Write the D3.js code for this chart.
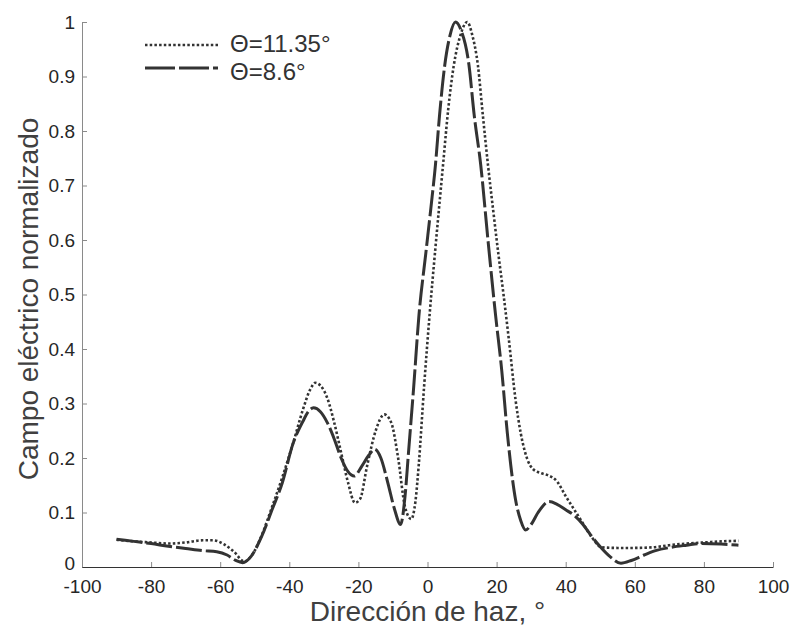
<!DOCTYPE html>
<html>
<head>
<meta charset="utf-8">
<script src="https://cdn.jsdelivr.net/npm/d3@7"></script>
<style>
  body { margin: 0; background: #fff; }
  svg { font-family: "Liberation Sans", Arial, sans-serif; }
</style>
</head>
<body>
<div id="chart"></div>
<script>
// Legend labels
const seriesNames = ["\u0398=11.35\u00b0", "\u0398=8.6\u00b0"];

// Θ=11.35° (dotted) — direction vs. normalised field
const dirA = [-90, -85, -80, -75, -70, -65, -62, -59, -56, -53, -51, -48, -45, -42, -39, -36, -34, -32.5, -31, -29, -27, -25, -23, -21, -19.5, -17.5, -15, -12.5, -10.5, -8.5, -6.5, -4.7, -3.5, -2.5, -1, 0.7, 2.5, 4.5, 6, 7.6, 9.5, 11.5, 13, 14.6, 16, 17.5, 19, 20.5, 22, 23.5, 25.5, 27, 29, 30.5, 33, 35, 37.5, 40, 42.5, 45, 47.5, 50.5, 55, 60, 65, 70, 75, 80, 85, 90];
const fieldA = [0.05, 0.047, 0.045, 0.043, 0.045, 0.049, 0.049, 0.042, 0.028, 0.01, 0.02, 0.058, 0.11, 0.165, 0.225, 0.29, 0.325, 0.338, 0.333, 0.31, 0.265, 0.21, 0.155, 0.118, 0.125, 0.185, 0.25, 0.28, 0.265, 0.2, 0.11, 0.088, 0.12, 0.19, 0.33, 0.47, 0.6, 0.738, 0.84, 0.92, 0.975, 1.0, 0.975, 0.92, 0.83, 0.738, 0.655, 0.575, 0.5, 0.42, 0.306, 0.245, 0.196, 0.18, 0.172, 0.168, 0.157, 0.13, 0.105, 0.08, 0.055, 0.036, 0.035, 0.035, 0.036, 0.04, 0.043, 0.045, 0.047, 0.048];

// Θ=8.6° (dashed)
const dirB = [-90, -85, -80, -75, -70, -65, -61, -58, -55.5, -53.5, -51, -48, -45, -42, -39, -36, -34.5, -33, -31, -29, -27, -25, -23, -21.2, -19, -17, -15.3, -13.5, -11.5, -9.5, -7.8, -6.5, -5.5, -4, -2.5, -0.5, 1, 2.3, 3.5, 5, 6.5, 8.1, 9.7, 12, 13.5, 15.4, 17.5, 19.7, 21.5, 23.1, 25.5, 27, 28.4, 30, 32, 35.2, 37.5, 40, 42.4, 45, 47.2, 50, 53, 56, 59, 62.7, 66, 70.4, 75, 79, 85, 90];
const fieldB = [0.051, 0.047, 0.043, 0.038, 0.034, 0.03, 0.028, 0.022, 0.012, 0.008, 0.02, 0.056, 0.105, 0.155, 0.225, 0.268, 0.285, 0.292, 0.285, 0.265, 0.235, 0.2, 0.175, 0.167, 0.185, 0.205, 0.216, 0.2, 0.155, 0.105, 0.078, 0.13, 0.21, 0.33, 0.46, 0.575, 0.66, 0.738, 0.83, 0.921, 0.975, 1.0, 0.985, 0.921, 0.83, 0.738, 0.6, 0.462, 0.36, 0.246, 0.123, 0.085, 0.068, 0.078, 0.1, 0.12, 0.115, 0.105, 0.095, 0.078, 0.059, 0.037, 0.018, 0.007, 0.012, 0.022, 0.03, 0.036, 0.04, 0.043, 0.042, 0.04];

// Axis ticks
const xTicks = [-100, -80, -60, -40, -20, 0, 20, 40, 60, 80, 100];
const yTicks = [0, 0.1, 0.2, 0.3, 0.4, 0.5, 0.6, 0.7, 0.8, 0.9, 1];

const width = 794, height = 629;
const margin = {top: 22, right: 21, bottom: 62, left: 82};
const w = width - margin.left - margin.right;
const h = height - margin.top - margin.bottom;

const svg = d3.select('#chart').append('svg')
    .attr('width', width)
    .attr('height', height);

const g = svg.append('g')
    .attr('transform', `translate(${margin.left},${margin.top})`);

const xScale = d3.scaleLinear().domain([-100, 100]).range([0, w]);
const yScale = d3.scaleLinear().domain([0, 1]).range([h, 0]);

// Axes, ticks point inward; plain hyphen for negatives like the original
const xAxis = d3.axisBottom(xScale)
    .tickValues(xTicks)
    .tickSizeInner(-5)
    .tickSizeOuter(0)
    .tickPadding(13)
    .tickFormat(d => String(d));

const yAxis = d3.axisLeft(yScale)
    .tickValues(yTicks)
    .tickSizeInner(-5)
    .tickSizeOuter(0)
    .tickPadding(7)
    .tickFormat(d => String(+d.toFixed(1)));

const yAxisG = g.append('g').call(yAxis);
yAxisG.select('.domain').attr('stroke', '#8a8a8a');
yAxisG.selectAll('.tick line').attr('stroke', '#8a8a8a');
yAxisG.selectAll('.tick text')
    .attr('font-size', 19)
    .attr('fill', '#262626');
// nudge the "0" label up so it clears the "-100" below it
yAxisG.selectAll('.tick text').filter(d => d === 0).attr('dy', '0.15em');

const xAxisG = g.append('g')
    .attr('transform', `translate(0,${h})`)
    .call(xAxis);
xAxisG.select('.domain').attr('stroke', '#333').attr('stroke-width', 1.2);
xAxisG.selectAll('.tick line').attr('stroke', '#8a8a8a');
xAxisG.selectAll('.tick text')
    .attr('font-size', 19)
    .attr('fill', '#262626');

// Curves
const line = d3.line()
    .x(d => xScale(d[0]))
    .y(d => yScale(d[1]))
    .curve(d3.curveMonotoneX);

const seriesA = dirA.map((d, i) => [d, fieldA[i]]);
const seriesB = dirB.map((d, i) => [d, fieldB[i]]);

const styles = [
    {dash: '2.5,2.2', legendDash: '2.5,2.2', width: 2.6},
    {dash: '26,4', legendDash: '30,4', width: 3}
];

[seriesA, seriesB].forEach((s, i) => {
    g.append('path')
        .datum(s)
        .attr('fill', 'none')
        .attr('stroke', '#333')
        .attr('stroke-width', styles[i].width)
        .attr('stroke-dasharray', styles[i].dash)
        .attr('d', line);
});

// Legend
const legend = svg.append('g').attr('transform', 'translate(145,0)');
seriesNames.forEach((name, i) => {
    legend.append('line')
        .attr('x1', 0).attr('x2', 73)
        .attr('y1', 45 + i * 23).attr('y2', 45 + i * 23)
        .attr('stroke', '#333')
        .attr('stroke-width', styles[i].width)
        .attr('stroke-dasharray', styles[i].legendDash);
    legend.append('text')
        .attr('x', 85)
        .attr('y', 44 + i * 28)
        .attr('dy', '0.35em')
        .attr('font-size', 24)
        .attr('fill', '#333')
        .text(name);
});

// Axis titles
svg.append('text')
    .attr('x', margin.left + xScale(0))
    .attr('y', 621)
    .attr('text-anchor', 'middle')
    .attr('font-size', 28)
    .attr('fill', '#404040')
    .text('Dirección de haz, °');

svg.append('text')
    .attr('transform', 'translate(38,299) rotate(-90)')
    .attr('text-anchor', 'middle')
    .attr('font-size', 28)
    .attr('fill', '#404040')
    .text('Campo eléctrico normalizado');
</script>
</body>
</html>
